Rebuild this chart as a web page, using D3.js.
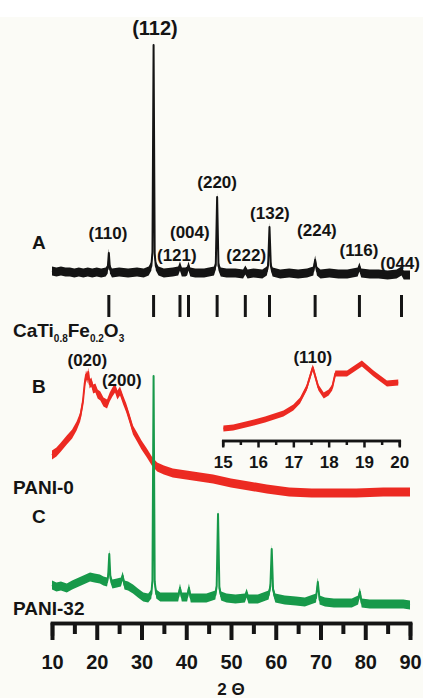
<!DOCTYPE html>
<html>
<head>
<meta charset="utf-8">
<script src="https://cdn.jsdelivr.net/npm/d3@7"></script>
<style>
  html, body { margin: 0; padding: 0; background: #fff; }
  svg { display: block; font-family: "Liberation Sans", Arial, sans-serif; font-weight: bold; }
</style>
</head>
<body>
<svg id="chart" width="423" height="698"></svg>
<script>
//

// pattern A : CaTi0.8Fe0.2O3 (2theta, intensity a.u. above its baseline)
const patternA = [
  [10, 3], [11, 2], [12, 3], [13, 2], [14, 2], [15, 1], [16, 2], [17, 1], [18, 2], [19, 1], [20, 2], [21, 1],
  [22, 2], [22.45, 5], [22.7, 21], [22.95, 5], [23.4, 1], [25, 2], [27, 1], [29, 2], [30.5, 1], [31.6, 3],
  [32.2, 8], [32.45, 22], [32.7, 229], [32.95, 20], [33.2, 8], [33.8, 3], [35, 1], [37, 2], [38.2, 3],
  [38.6, 8], [39, 2], [39.8, 2], [40.2, 3], [40.5, 8], [40.9, 2], [42, 1], [44, 1], [46.2, 3], [46.6, 9],
  [46.9, 77], [47.2, 8], [47.7, 2], [49, 1], [51, 1], [52.7, 0], [53.2, 4], [53.7, 0], [55, 1], [57, 0],
  [58.0, 3], [58.3, 9], [58.6, 47], [58.9, 8], [59.3, 2], [61, 0], [63, 1], [65, 0], [67, 1], [68.4, 3],
  [68.8, 14], [69.2, 3], [70, 0], [72, 1], [74, 0], [76, 0], [78.3, 2], [78.7, 7], [79.1, 1], [81, 0],
  [83, 0], [85, -1], [87, 0], [88.1, 3], [88.6, -1], [90, -1]
]

// pattern B : PANI-0
const patternB = [
  [10, 37], [11, 40], [12, 45], [13.3, 52], [14.5, 58], [15.5, 66], [16.3, 75], [16.9, 90], [17.3, 108],
  [17.6, 117], [17.9, 113], [18.1, 120], [18.4, 108], [18.8, 110], [19.2, 103], [19.7, 104], [20.2, 98],
  [20.8, 96], [21.5, 90], [22.3, 88], [22.9, 95], [23.5, 100], [24.1, 104], [24.6, 97], [25.2, 101],
  [25.9, 92], [26.6, 84], [27.3, 74], [28.1, 62], [29, 55], [30, 47], [31.2, 39], [32.3, 31], [33.5, 25],
  [35, 22], [37, 19], [40, 17], [43, 15], [46, 13], [50, 9], [54, 6], [58, 3], [63, 0], [68, -1],
  [73, -1], [78, -1], [84, 0], [90, 0]
]

// pattern C : PANI-32
const patternC = [
  [10, 15], [11, 13], [12, 14], [13.3, 12], [14.5, 15], [16, 18], [17.5, 21], [18.5, 23], [19.5, 22],
  [20.7, 21], [21.5, 19], [22.3, 18], [22.55, 24], [22.8, 46], [23.05, 22], [23.5, 16], [24.5, 17],
  [25.4, 18], [25.8, 24], [26.2, 15], [27, 14], [28.1, 11], [29.2, 7], [30.4, 3], [31.5, 2], [32.2, 6],
  [32.45, 20], [32.7, 224], [32.95, 18], [33.3, 6], [34.2, 3], [35.5, 3], [37, 3], [38.2, 3], [38.6, 12],
  [39, 3], [40.2, 3], [40.6, 12], [41, 2], [42.5, 2], [44.5, 2], [46.5, 5], [46.8, 14], [47.1, 86],
  [47.4, 12], [47.8, 4], [49, 2], [51, 1], [53.1, 2], [53.5, 7], [53.9, 1], [56, 1], [58.4, 5], [58.8, 14],
  [59.1, 51], [59.4, 10], [59.9, 2], [62, 0], [64.5, -1], [66.5, -2], [69, 2], [69.4, 18], [69.8, 0],
  [71, -2], [73, -3], [75, -3], [77, -3], [78.4, 0], [78.8, 8], [79.2, -3], [81, -4], [83, -4], [85, -4],
  [87, -4], [88.5, -4], [90, -5]
]

// inset : PANI-0 from 15 to 20 degrees
const patternInset = [
  [15.02, 12], [15.3, 13], [15.77, 17], [16.2, 21], [16.72, 27], [17.0, 33], [17.19, 40], [17.38, 53],
  [17.55, 73], [17.71, 53], [17.86, 45], [18.0, 48], [18.1, 53], [18.19, 67], [18.52, 67], [18.94, 77],
  [19.27, 67], [19.65, 57], [19.97, 58]
]

// CaTiO3-type reference reflections
const refAngles = [22.7, 32.7, 38.6, 40.5, 46.9, 53.2, 58.6, 68.8, 78.7, 88.1]

// hkl labels: text, 2theta, height (text baseline)
const labelsA = [
  ['(110)', 22.5, 384], ['(112)', 33.0, 588], ['(121)', 37.9, 362], ['(004)', 40.8, 385],
  ['(220)', 46.9, 435], ['(222)', 53.4, 362], ['(132)', 58.7, 404], ['(224)', 69.2, 387],
  ['(116)', 78.6, 367], ['(044)', 87.8, 354]
]
const labelsB = [['(020)', 17.9, 257], ['(200)', 25.6, 237]]
const labelsInset = [['(110)', 17.55, 78]]

const mainTicks = [10, 20, 30, 40, 50, 60, 70, 80, 90]
const mainMinor = [15, 25, 35, 45, 55, 65, 75, 85]
const insetTicks = [15, 16, 17, 18, 19, 20]
const insetMinor = [15.5, 16.5, 17.5, 18.5, 19.5]

//

const black = '#141414'
const red = '#ec2a22'
const green = '#17994a'

const svg = d3.select('#chart')

svg.append('rect')
  .attr('x', 0).attr('y', 17)
  .attr('width', 423).attr('height', 681)
  .attr('fill', '#fbfbf6')

const x = d3.scaleLinear().domain([10, 90]).range([52, 410])
const y = d3.scaleLinear().domain([0, 600]).range([623, 23])

const xi = d3.scaleLinear().domain([15, 20]).range([222.7, 399.3])
const yi = d3.scaleLinear().domain([0, 100]).range([440.5, 340.5])

const drawPattern = (data, xs, ys, offset, color, w) => {
  const area = d3.area()
    .x((d) => xs(d[0]))
    .y0((d) => ys(d[1] + offset) + w)
    .y1((d) => ys(d[1] + offset) - w)
  const line = d3.line()
    .x((d) => xs(d[0]))
    .y((d) => ys(d[1] + offset))

  svg.append('path')
    .attr('d', area(data))
    .attr('fill', color)
  svg.append('path')
    .attr('d', line(data))
    .attr('fill', 'none')
    .attr('stroke', color)
    .attr('stroke-width', 2)
    .attr('stroke-linejoin', 'round')
}

const drawLabels = (labels, xs, ys, size) => {
  svg.append('g')
    .selectAll('text')
    .data(labels)
    .join('text')
    .attr('x', (d) => xs(d[1]))
    .attr('y', (d) => ys(d[2]))
    .attr('text-anchor', 'middle')
    .attr('font-size', (d) => d[0] === '(112)' && size === 17 ? 20 : size)
    .attr('fill', black)
    .text((d) => d[0])
}

// patterns
drawPattern(patternA, x, y, 349, black, 4.5)
drawPattern(patternB, x, y, 131, red, 4.5)
drawPattern(patternC, x, y, 23, green, 4.5)
drawPattern(patternInset, xi, yi, 0, red, 3)

// reference sticks
svg.append('g')
  .selectAll('line')
  .data(refAngles)
  .join('line')
  .attr('x1', (d) => x(d)).attr('x2', (d) => x(d))
  .attr('y1', y(328)).attr('y2', y(306))
  .attr('stroke', black)
  .attr('stroke-width', 3)

drawLabels(labelsA, x, y, 17)
drawLabels(labelsB, x, y, 17)
drawLabels(labelsInset, xi, yi, 17)

// sample labels
const sampleLabels = [
  ['A', 32, 249, 19], ['B', 32, 393, 19], ['PANI-0', 13, 494, 19],
  ['C', 32, 523, 19], ['PANI-32', 13, 615, 19]
]
svg.append('g')
  .selectAll('text')
  .data(sampleLabels)
  .join('text')
  .attr('x', (d) => d[1])
  .attr('y', (d) => d[2])
  .attr('font-size', (d) => d[3])
  .attr('fill', black)
  .text((d) => d[0])

const formula = svg.append('text')
  .attr('x', 13).attr('y', 337)
  .attr('font-size', 19)
  .attr('fill', black)
formula.append('tspan').text('CaTi')
formula.append('tspan').attr('font-size', 10).attr('dy', 5).text('0.8')
formula.append('tspan').attr('dy', -5).text('Fe')
formula.append('tspan').attr('font-size', 10).attr('dy', 5).text('0.2')
formula.append('tspan').attr('dy', -5).text('O')
formula.append('tspan').attr('font-size', 10).attr('dy', 5).text('3')

// main axis
const styleAxis = (g, domainWidth, tickWidth) => {
  g.select('.domain')
    .attr('stroke', black)
    .attr('stroke-width', domainWidth)
    .attr('stroke-linecap', 'square')
  g.selectAll('.tick line')
    .attr('stroke', black)
    .attr('stroke-width', tickWidth)
}

svg.append('g')
  .attr('transform', `translate(0, ${y(0)})`)
  .call(d3.axisBottom(x).tickValues(mainMinor).tickSize(11).tickFormat(''))
  .call((g) => styleAxis(g, 3.5, 4))

svg.append('g')
  .attr('transform', `translate(0, ${y(0)})`)
  .call(d3.axisBottom(x).tickValues(mainTicks).tickSize(17).tickSizeOuter(0).tickPadding(15))
  .call((g) => styleAxis(g, 3.5, 4))
  .selectAll('text')
    .attr('font-size', 20)
    .attr('font-family', '"Liberation Sans", Arial, sans-serif')
    .attr('font-weight', 'bold')
    .attr('fill', black)

svg.append('text')
  .attr('x', x(50)).attr('y', 695)
  .attr('text-anchor', 'middle')
  .attr('font-size', 17)
  .attr('fill', black)
  .text('2 Θ')

// inset axis
svg.append('g')
  .attr('transform', `translate(0, ${yi(0)})`)
  .call(d3.axisBottom(xi).tickValues(insetMinor).tickSize(4.5).tickFormat(''))
  .call((g) => styleAxis(g, 2.5, 2.5))

svg.append('g')
  .attr('transform', `translate(0, ${yi(0)})`)
  .call(d3.axisBottom(xi).tickValues(insetTicks).tickSize(7).tickSizeOuter(0).tickPadding(8)
    .tickFormat(d3.format('d')))
  .call((g) => styleAxis(g, 2.5, 2.5))
  .selectAll('text')
    .attr('font-size', 17)
    .attr('font-family', '"Liberation Sans", Arial, sans-serif')
    .attr('font-weight', 'bold')
    .attr('fill', black)
</script>
</body>
</html>
